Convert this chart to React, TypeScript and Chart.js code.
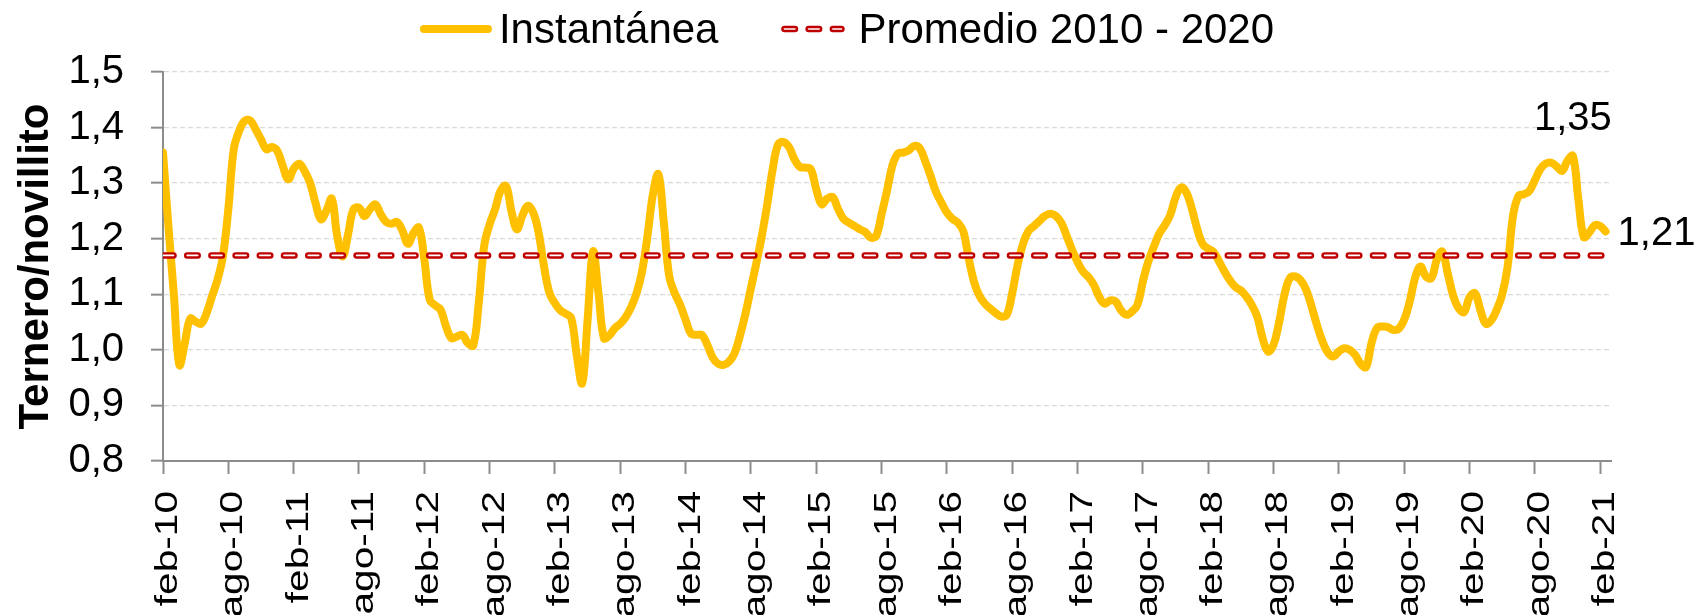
import React, { useEffect, useRef } from 'react';
import { Chart, registerables } from 'chart.js';

Chart.register(...registerables);

// ---------- data ----------
const tickLabels = [
  'feb-10', 'ago-10', 'feb-11', 'ago-11', 'feb-12', 'ago-12', 'feb-13', 'ago-13',
  'feb-14', 'ago-14', 'feb-15', 'ago-15', 'feb-16', 'ago-16', 'feb-17', 'ago-17',
  'feb-18', 'ago-18', 'feb-19', 'ago-19', 'feb-20', 'ago-20', 'feb-21',
];
const MONTHS_PER_TICK = 6;
const SAMPLE_STEP = 0.5; // months between consecutive readings

const seriesNames = ['Instantánea', 'Promedio 2010 - 2020'];

// Ternero/novillito ratio, read every half month from feb-10
const instantanea = [
  1.355, 1.222, 1.099, 0.973, 1.012, 1.056, 1.051, 1.047, 1.066, 1.096,
  1.126, 1.168, 1.253, 1.361, 1.394, 1.412, 1.413, 1.397, 1.379, 1.361,
  1.365, 1.358, 1.331, 1.307, 1.326, 1.335, 1.322, 1.301, 1.265, 1.235,
  1.250, 1.272, 1.205, 1.168, 1.208, 1.253, 1.256, 1.241, 1.253, 1.262,
  1.244, 1.230, 1.227, 1.230, 1.214, 1.191, 1.210, 1.220, 1.163, 1.090,
  1.080, 1.072, 1.042, 1.021, 1.024, 1.027, 1.012, 1.008, 1.084, 1.187,
  1.226, 1.253, 1.286, 1.295, 1.250, 1.217, 1.241, 1.259, 1.247, 1.211,
  1.150, 1.102, 1.084, 1.071, 1.065, 1.057, 0.991, 0.940, 1.054, 1.177,
  1.102, 1.021, 1.026, 1.039, 1.047, 1.059, 1.077, 1.102, 1.141, 1.205,
  1.280, 1.316, 1.229, 1.132, 1.102, 1.081, 1.054, 1.029, 1.027, 1.027,
  1.009, 0.986, 0.975, 0.973, 0.979, 0.994, 1.026, 1.065, 1.111, 1.156,
  1.205, 1.262, 1.325, 1.370, 1.374, 1.365, 1.343, 1.329, 1.328, 1.325,
  1.289, 1.262, 1.272, 1.275, 1.254, 1.236, 1.229, 1.223, 1.217, 1.212,
  1.202, 1.205, 1.244, 1.286, 1.332, 1.353, 1.355, 1.359, 1.367, 1.363,
  1.340, 1.313, 1.284, 1.265, 1.247, 1.236, 1.229, 1.214, 1.165, 1.122,
  1.097, 1.083, 1.074, 1.066, 1.060, 1.063, 1.102, 1.153, 1.191, 1.214,
  1.223, 1.232, 1.241, 1.245, 1.241, 1.229, 1.205, 1.180, 1.158, 1.141,
  1.131, 1.117, 1.095, 1.083, 1.089, 1.087, 1.071, 1.063, 1.069, 1.081,
  1.123, 1.159, 1.185, 1.209, 1.224, 1.242, 1.274, 1.292, 1.283, 1.254,
  1.217, 1.190, 1.182, 1.176, 1.159, 1.141, 1.125, 1.113, 1.107, 1.096,
  1.081, 1.060, 1.021, 0.997, 1.009, 1.048, 1.099, 1.129, 1.132, 1.125,
  1.108, 1.078, 1.044, 1.015, 0.995, 0.988, 0.997, 1.003, 1.000, 0.991,
  0.975, 0.969, 1.012, 1.039, 1.042, 1.041, 1.036, 1.038, 1.054, 1.086,
  1.129, 1.150, 1.132, 1.129, 1.162, 1.177, 1.138, 1.098, 1.075, 1.068,
  1.094, 1.102, 1.072, 1.047, 1.053, 1.072, 1.099, 1.149, 1.241, 1.277,
  1.280, 1.286, 1.305, 1.325, 1.335, 1.337, 1.330, 1.322, 1.340, 1.349,
  1.271, 1.203, 1.211, 1.224, 1.223, 1.213,
];
const promedio = 1.17;

const Y_MIN = 0.8;
const Y_MAX = 1.5;
const Y_STEP = 0.1;
const X_MAX = 133; // months

// indices of the annotated readings: [peak, last]
const annotated = [259, 265];

// ---------- styles ----------
const YELLOW = '#FFC000';
const RED = '#C00000';
const AXIS = '#8C8C8C';
const GRID = '#D9D9D9';
const DASH = [10.5, 13.7];
const SANS = '"Liberation Sans", Arial, sans-serif';

const fmt = (v: number, d: number) => v.toFixed(d).replace('.', ',');

const xLabelPlugin = {
  id: 'xLabels',
  afterDraw(chart: any) {
    const sx = chart.scales.x;
    const ctx = chart.ctx;
    ctx.save();
    ctx.fillStyle = '#000';
    ctx.font = `32px ${SANS}`;
    ctx.textAlign = 'right';
    ctx.textBaseline = 'alphabetic';
    const top = chart.chartArea.bottom + 30;
    sx.ticks.forEach((t: any, i: number) => {
      const x = sx.getPixelForValue(t.value);
      ctx.save();
      ctx.translate(x, top);
      ctx.rotate(-Math.PI / 2);
      ctx.scale(1.27, 1);
      ctx.fillText(tickLabels[i] ?? '', 0, 14);
      ctx.restore();
    });
    ctx.restore();
  },
};

const legendPlugin = {
  id: 'customLegend',
  afterDraw(chart: any) {
    const ctx = chart.ctx;
    ctx.save();
    ctx.font = `42px ${SANS}`;
    const w1 = ctx.measureText(seriesNames[0]).width;
    const w2 = ctx.measureText(seriesNames[1]).width;
    const line1 = 72, gap1 = 7, between = 63, line2 = 63, gap2 = 14;
    const total = line1 + gap1 + w1 + between + line2 + gap2 + w2;
    let x = (chart.width - total) / 2;
    const ly = 29;
    const by = 43;
    ctx.lineCap = 'round';
    ctx.strokeStyle = YELLOW;
    ctx.lineWidth = 8;
    ctx.beginPath();
    ctx.moveTo(x + 4, ly);
    ctx.lineTo(x + line1 - 4, ly);
    ctx.stroke();
    x += line1 + gap1;
    ctx.fillStyle = '#000';
    ctx.textBaseline = 'alphabetic';
    ctx.textAlign = 'left';
    ctx.fillText(seriesNames[0], x, by);
    x += w1 + between;
    ctx.setLineDash(DASH);
    ctx.strokeStyle = RED;
    ctx.lineWidth = 6.5;
    ctx.beginPath();
    ctx.moveTo(x + 3, ly);
    ctx.lineTo(x + line2 - 3, ly);
    ctx.stroke();
    ctx.strokeStyle = '#FFFFFF';
    ctx.lineWidth = 1.6;
    ctx.beginPath();
    ctx.moveTo(x + 3, ly);
    ctx.lineTo(x + line2 - 3, ly);
    ctx.stroke();
    ctx.setLineDash([]);
    x += line2 + gap2;
    ctx.fillText(seriesNames[1], x, by);
    ctx.restore();
  },
};

const pointLabelPlugin = {
  id: 'pointLabels',
  afterDatasetsDraw(chart: any) {
    const meta = chart.getDatasetMeta(2);
    const ctx = chart.ctx;
    ctx.save();
    ctx.fillStyle = '#000';
    ctx.font = `40px ${SANS}`;
    ctx.textBaseline = 'alphabetic';
    const [peak, last] = annotated;
    const pe = meta.data[peak];
    ctx.textAlign = 'center';
    ctx.fillText(fmt(instantanea[peak], 2), pe.x, pe.y - 26);
    const le = meta.data[last];
    ctx.textAlign = 'left';
    ctx.fillText(fmt(instantanea[last], 2), le.x + 12, le.y + 14);
    ctx.restore();
  },
};

export default function App() {
  const ref = useRef<HTMLCanvasElement | null>(null);

  useEffect(() => {
    document.body.style.margin = '0';
    const canvas = ref.current;
    if (!canvas) return;
    const lastX = (instantanea.length - 1) * SAMPLE_STEP;
    const mainPts = instantanea.map((v, k) => ({ x: k * SAMPLE_STEP, y: v }));
    const avgPts = [{ x: 0, y: promedio }, { x: lastX, y: promedio }];

    const chart = new Chart(canvas, {
      type: 'line',
      data: {
        datasets: [
          {
            label: seriesNames[1] + ' (centro)',
            data: avgPts,
            borderColor: '#FFFFFF',
            borderWidth: 1.6,
            borderDash: DASH,
            borderCapStyle: 'round',
            pointRadius: 0,
            fill: false,
          },
          {
            label: seriesNames[1],
            data: avgPts,
            borderColor: RED,
            borderWidth: 6.5,
            borderDash: DASH,
            borderCapStyle: 'round',
            pointRadius: 0,
            fill: false,
          },
          {
            label: seriesNames[0],
            data: mainPts,
            borderColor: YELLOW,
            borderWidth: 8,
            borderCapStyle: 'round',
            borderJoinStyle: 'round',
            tension: 0.4,
            pointRadius: 0,
            fill: false,
          },
        ],
      },
      options: {
        responsive: false,
        animation: false,
        devicePixelRatio: 1,
        layout: { padding: { top: 72, right: 83, bottom: 0, left: 0 } },
        plugins: {
          legend: { display: false },
          tooltip: { enabled: false },
        },
        scales: {
          x: {
            type: 'linear',
            min: 0,
            max: X_MAX,
            afterBuildTicks: (s: any) => {
              s.ticks = tickLabels.map((_, i) => ({ value: i * MONTHS_PER_TICK }));
            },
            afterFit: (s: any) => {
              s.height = 154;
            },
            ticks: { display: false },
            grid: {
              drawOnChartArea: false,
              drawTicks: true,
              tickLength: 13,
              tickWidth: 2,
              tickColor: AXIS,
            },
            border: { display: true, color: AXIS, width: 2 },
          },
          y: {
            min: Y_MIN,
            max: Y_MAX,
            afterFit: (s: any) => {
              s.width = 163;
            },
            ticks: {
              stepSize: Y_STEP,
              color: '#000',
              padding: 27,
              font: { family: SANS, size: 40 },
              callback: (v: any) => fmt(Number(v), 1),
            },
            grid: {
              color: GRID,
              lineWidth: 1.3,
              drawTicks: true,
              tickLength: 12,
              tickWidth: 2,
              tickColor: AXIS,
              tickBorderDash: [],
              borderDash: [5, 3],
            } as any,
            border: { display: true, color: AXIS, width: 2, dash: [5, 3] },
            title: {
              display: true,
              text: 'Ternero/novillito',
              color: '#000',
              font: { family: SANS, size: 42, weight: 'bold' },
              padding: { top: 11, bottom: 0 },
            },
          },
        },
      } as any,
      plugins: [xLabelPlugin, legendPlugin, pointLabelPlugin],
    });
    return () => chart.destroy();
  }, []);

  return (
    <div style={{ width: 1694, height: 615 }}>
      <canvas ref={ref} width={1694} height={615} style={{ display: 'block' }} />
    </div>
  );
}
